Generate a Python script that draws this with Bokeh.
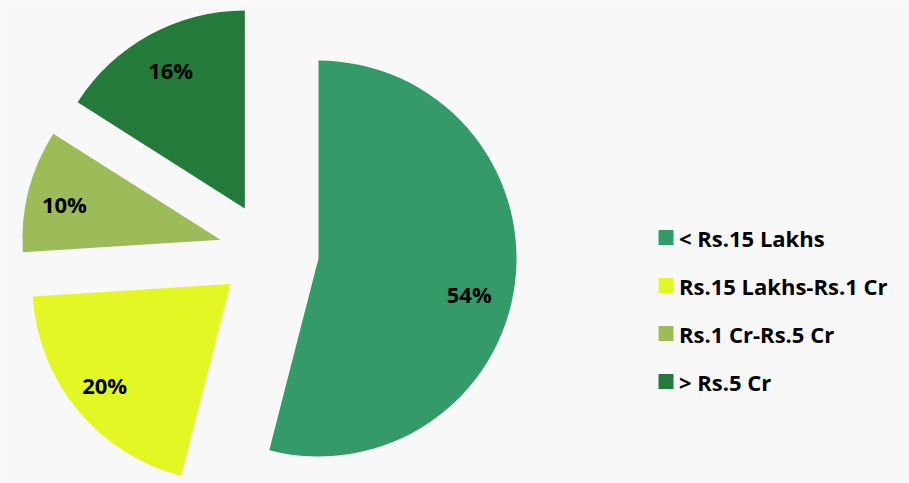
import math
from bokeh.plotting import figure
from bokeh.models import Range1d, ColumnDataSource
from bokeh.core.properties import value
from bokeh.embed import file_html
from bokeh.resources import INLINE

# ---- data ----
categories = ["< Rs.15 Lakhs", "Rs.15 Lakhs-Rs.1 Cr", "Rs.1 Cr-Rs.5 Cr", "> Rs.5 Cr"]
shares = [54, 20, 10, 16]
colors = ["#349A6A", "#E2F723", "#9DBB59", "#237A3A"]
pct_labels = [f"{v}%" for v in shares]

# ---- layout ----
W, H = 909, 483
cx, cy = 268.4, H - 251.75
R = 198
explode = 50
label_r = 158
label_nudge = [(-6, -16), (-4, 0), (-3, -3), (2, 0)]  # label offsets in px (x, y-up)
FONT = "Open Sans"
FSIZE = "22px"

total = sum(shares)
xs, ys, st, en, lx, ly = [], [], [], [], [], []
acc = 0
for i, v in enumerate(shares):
    a0 = acc / total * 2 * math.pi
    acc += v
    a1 = acc / total * 2 * math.pi
    mid = (a0 + a1) / 2
    ox = cx + explode * math.sin(mid)
    oy = cy + explode * math.cos(mid)
    xs.append(ox)
    ys.append(oy)
    st.append(math.pi / 2 - a0)
    en.append(math.pi / 2 - a1)
    lx.append(ox + label_r * math.sin(mid) + label_nudge[i][0])
    ly.append(oy + label_r * math.cos(mid) + label_nudge[i][1])

src = ColumnDataSource(dict(x=xs, y=ys, start=st, end=en, color=colors,
                            cat=categories, lab=pct_labels, lx=lx, ly=ly))

p = figure(width=W, height=H, x_range=Range1d(0, W), y_range=Range1d(0, H),
           output_backend="svg", toolbar_location=None, min_border=0)
p.axis.visible = False
p.grid.visible = False
p.outline_line_color = None
p.background_fill_color = "#F8F8F8"
p.border_fill_color = "#F8F8F8"

p.wedge(x="x", y="y", radius=R, start_angle="start", end_angle="end",
        direction="clock", fill_color="color", line_color=None, source=src)

p.text(x="lx", y="ly", text="lab", source=src, text_align="center",
       text_baseline="middle", text_font=value(FONT), text_font_style="bold",
       text_font_size=FSIZE, text_color="#000000")

# legend (manual)
leg_x = 665.5
leg_top = H - 237
leg_step = 48
lgx = [leg_x] * len(categories)
lgy = [leg_top - i * leg_step for i in range(len(categories))]
lsrc = ColumnDataSource(dict(x=lgx, y=lgy, tx=[x + 13 for x in lgx], color=colors, cat=categories))
p.rect(x="x", y="y", width=15, height=15, fill_color="color", line_color=None, source=lsrc)
p.text(x="tx", y="y", text="cat", source=lsrc, text_align="left", text_baseline="middle",
       text_font=value(FONT), text_font_style="bold", text_font_size=FSIZE,
       text_color="#000000")

open("out.html", "w").write(file_html(p, INLINE))
